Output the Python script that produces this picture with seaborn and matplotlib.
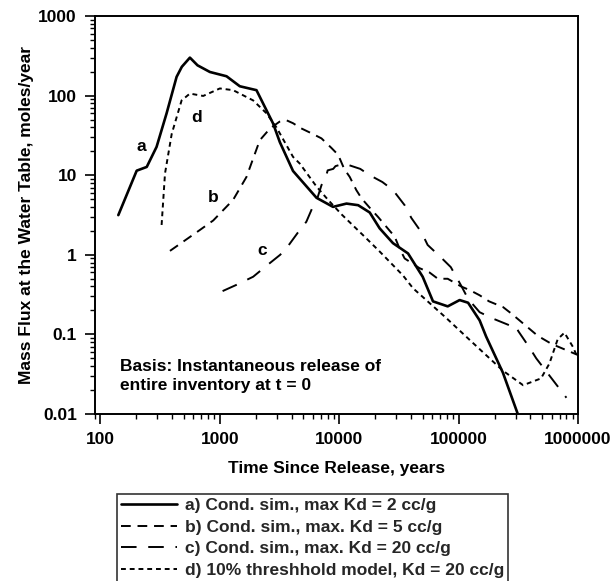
import matplotlib
matplotlib.use("Agg")
import matplotlib.pyplot as plt
import seaborn as sns
import numpy as np
import pandas as pd
from matplotlib.lines import Line2D

# ---- data ----
a_x = [141, 201, 244, 295, 358, 434, 480, 561, 650, 825, 1137, 1469, 2026, 2790,
       3180, 4100, 6450, 8870, 11500, 14400, 18000, 21800, 28200, 37700, 50000,
       61000, 81000, 102000, 120000, 150000, 170000, 235000, 313000]
a_y = [3.15, 11.4, 12.7, 22.7, 60, 172, 230, 300, 240, 198, 175, 131, 117, 44.7,
       26, 11.3, 5.2, 4.0, 4.4, 4.2, 3.4, 2.15, 1.4, 1.04, 0.53,
       0.26, 0.225, 0.27, 0.25, 0.15, 0.094, 0.033, 0.01]

b_x = [382, 680, 880, 1291, 1670, 2160, 2630, 3160, 3610, 4100, 4760, 6000, 7100,
       8600, 9800, 11000, 12250, 13900, 15400, 18000, 21100, 26500, 29100, 32000,
       35300, 47000, 57000, 67000, 81000, 105000, 124000, 150000, 180000, 236000,
       280000, 460000, 600000, 1000000]
b_y = [1.12, 2.05, 2.7, 4.9, 9.5, 27.5, 38.6, 47, 49, 45, 39, 33, 29,
       22, 18, 12, 9.5, 6.5, 5.1, 3.9, 3.0, 2.0, 1.7, 1.2,
       0.9, 0.68, 0.6, 0.5, 0.5, 0.4, 0.36, 0.31, 0.26, 0.22,
       0.18, 0.096, 0.076, 0.055]

c_x = [1054, 1380, 1900, 2380, 3200, 3700, 4500, 5300, 6000, 6600, 7100, 7800,
       8000, 8900, 9300, 11000, 15000, 18000, 23000, 28200, 35300, 40200, 49000,
       55000, 71000, 86000, 105000, 120000, 150000, 190000, 267000, 300000,
       316000, 393000, 447000, 800000]
c_y = [0.35, 0.42, 0.53, 0.70, 1.0, 1.27, 1.9, 2.6, 4.0, 5.3, 7.5, 10,
       11.5, 12, 13, 14, 12, 10, 8.2, 6.5, 4.2, 2.9, 1.9,
       1.33, 0.93, 0.7, 0.41, 0.28, 0.19, 0.16, 0.13, 0.13,
       0.11, 0.068, 0.05, 0.016]

d_x = [325, 347, 395, 478, 561, 725, 1000, 1291, 1900, 2455, 2975, 4100, 4670,
       6450, 8060, 10500, 16300, 21800, 34200, 41500, 79000, 124000, 235000,
       347000, 490000, 576000, 676000, 770000, 905000, 1000000]
d_y = [2.37, 10.5, 33, 87, 106, 99, 123, 117, 87, 60, 40, 17, 14,
       7.2, 4.9, 3.2, 1.69, 1.1, 0.55, 0.38, 0.16, 0.085, 0.035,
       0.023, 0.028, 0.043, 0.087, 0.105, 0.07, 0.05]

series_labels = ["a) Cond. sim., max Kd = 2 cc/g",
                 "b) Cond. sim., max. Kd = 5 cc/g",
                 "c) Cond. sim., max. Kd = 20 cc/g",
                 "d) 10% threshhold model, Kd = 20 cc/g"]
curve_tags = ["a", "b", "c", "d"]
tag_x = [221, 873, 2245, 643]
tag_y = [22.7, 5.3, 1.12, 53.6]

x_ticks = [100, 1000, 10000, 100000, 1000000]
x_tick_labels = ["100", "1000", "10000", "100000", "1000000"]
y_ticks = [0.01, 0.1, 1, 10, 100, 1000]
y_tick_labels = ["0.01", "0.1", "1", "10", "100", "1000"]

x_label = "Time Since Release, years"
y_label = "Mass Flux at the Water Table, moles/year"
basis_text = "Basis: Instantaneous release of\nentire inventory at t = 0"

# ---- styling ----
sns.set_theme(style="ticks")
plt.rcParams["font.family"] = ["Liberation Sans", "DejaVu Sans"]
plt.rcParams["font.weight"] = "bold"

W, H = 615, 581
fig = plt.figure(figsize=(W / 100, H / 100), dpi=100)
ax = fig.add_axes([95 / W, 1 - 414 / H, (578 - 95) / W, (414 - 16) / H])

styles = ["-", (0, (5, 3.5)), (0, (8, 6)), (0, (2.5, 2))]
xs = [a_x, b_x, c_x, d_x]
ys = [a_y, b_y, c_y, d_y]

frames = []
for lab, x, y in zip(series_labels, xs, ys):
    frames.append(pd.DataFrame({"x": x, "y": y, "series": lab}))
df = pd.concat(frames, ignore_index=True)

lw = [1.9, 1.4, 1.4, 1.4]
for i, lab in enumerate(series_labels):
    sub = df[df["series"] == lab]
    sns.lineplot(data=sub, x="x", y="y", ax=ax, color="black",
                 linestyle=styles[i], linewidth=lw[i], estimator=None,
                 sort=False, legend=False)

ax.set_xscale("log")
ax.set_yscale("log")
ax.set_xlim(10 ** (2 - 5.5 / 119.5), 1e6)
ax.set_ylim(0.01, 1000)

ax.set_xticks(x_ticks)
ax.set_xticklabels(x_tick_labels)
ax.set_yticks(y_ticks)
ax.set_yticklabels(y_tick_labels)

fs = 12.5
for t in ax.get_xticklabels() + ax.get_yticklabels():
    t.set_fontsize(fs)
    t.set_fontweight("bold")
    t.set_color("black")

ax.tick_params(axis="both", which="major", direction="out", length=7,
               width=1.2, colors="black", pad=6)
ax.tick_params(axis="both", which="minor", direction="out", length=3.5,
               width=1.0, colors="black")
ax.tick_params(top=False, right=False, which="both")

for sp in ax.spines.values():
    sp.set_visible(True)
    sp.set_linewidth(1.4)
    sp.set_color("black")

ax.set_xlabel(x_label, fontsize=fs, fontweight="bold", color="black", labelpad=10)
ax.set_ylabel(y_label, fontsize=fs, fontweight="bold", color="black", labelpad=3)

for tag, tx, ty in zip(curve_tags, tag_x, tag_y):
    ax.text(tx, ty, tag, fontsize=fs, fontweight="bold", ha="center",
            va="center", color="black")

fig.text(120 / W, 1 - 376 / H, basis_text, fontsize=fs, fontweight="bold",
         ha="left", va="center", linespacing=1.3, color="black")

handles = [Line2D([0], [0], color="black", linestyle=styles[i], linewidth=lw[i])
           for i in range(4)]
leg = fig.legend(handles, series_labels, loc="upper left",
                 bbox_to_anchor=(117 / W, 1 - 494 / H),
                 frameon=True, fancybox=False,
                 handlelength=3.2, handletextpad=0.45, labelspacing=0.36,
                 borderpad=0.25, borderaxespad=0, prop={"weight": "bold", "size": fs})
leg.get_frame().set_edgecolor("black")
leg.get_frame().set_linewidth(1.2)

fig.savefig("out.png", dpi=100)
